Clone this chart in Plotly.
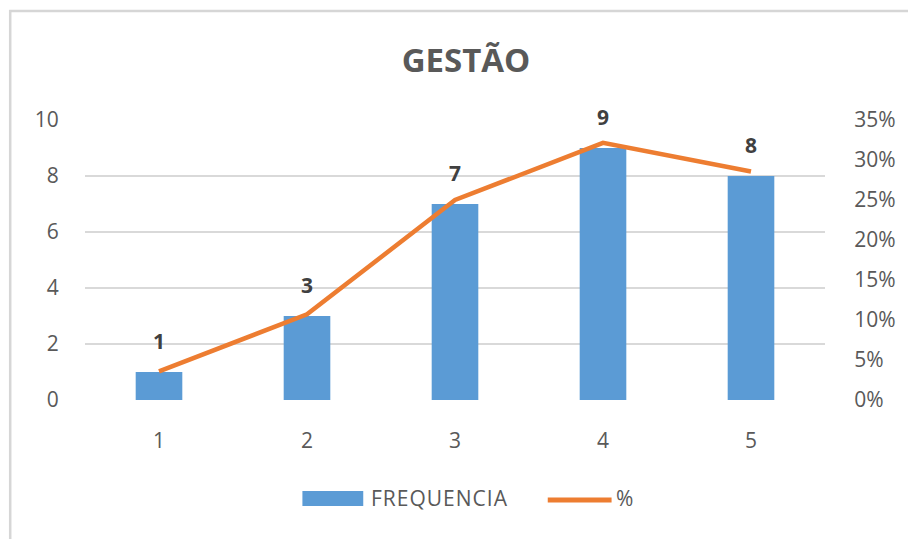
import plotly.graph_objects as go

# Chart data
categories = [1, 2, 3, 4, 5]
frequencia = [1, 3, 7, 9, 8]
percentual = [0.0357, 0.1071, 0.25, 0.3214, 0.2857]
left_ticks = [0, 2, 4, 6, 8, 10]
right_ticks = [0, 0.05, 0.10, 0.15, 0.20, 0.25, 0.30, 0.35]

BAR_COLOR = "#5B9BD5"
LINE_COLOR = "#ED7D31"
TEXT_GRAY = "#595959"
LABEL_GRAY = "#404040"
GRID = "#D9D9D9"
FONT = "Open Sans"

W, H = 908, 539
L, R, T, B = 85, 81, 120, 139
PW, PH = W - L - R, H - T - B


def px(x):
    return (x - L) / PW


def py(y):
    return (H - B - y) / PH


fig = go.Figure()

fig.add_trace(go.Bar(
    x=categories, y=frequencia, name="FREQUENCIA",
    marker=dict(color=BAR_COLOR, line=dict(width=0)),
    width=0.315, yaxis="y", showlegend=False,
))

fig.add_trace(go.Scatter(
    x=categories, y=percentual, name="%", mode="lines",
    line=dict(color=LINE_COLOR, width=4.5), yaxis="y2", showlegend=False,
))

# value labels above each column
for c, v in zip(categories, frequencia):
    fig.add_annotation(
        x=c, y=v, xref="x", yref="y", text=str(v), showarrow=False,
        yanchor="middle", yshift=31,
        font=dict(family=FONT, size=21, color=LABEL_GRAY, weight="bold"),
    )

# legend drawn by hand
fig.add_shape(type="rect", xref="paper", yref="paper",
              x0=px(303), x1=px(364), y0=py(506), y1=py(491),
              fillcolor=BAR_COLOR, line=dict(width=0))
fig.add_annotation(xref="paper", yref="paper", x=px(370), y=py(498),
                   xanchor="left", yanchor="middle",
                   text='<span style="letter-spacing:1px">FREQUENCIA</span>',
                   showarrow=False, font=dict(family=FONT, size=21, color=TEXT_GRAY))
fig.add_shape(type="line", xref="paper", yref="paper",
              x0=px(549), x1=px(613), y0=py(500), y1=py(500),
              line=dict(color=LINE_COLOR, width=5))
fig.add_annotation(xref="paper", yref="paper", x=px(615), y=py(498),
                   xanchor="left", yanchor="middle", text="%",
                   showarrow=False, font=dict(family=FONT, size=21, color=TEXT_GRAY))

# outer frame (top and left edges)
fig.add_shape(type="line", xref="paper", yref="paper",
              x0=px(9), x1=px(920), y0=py(11), y1=py(11),
              line=dict(color="#D6D6D6", width=2.5))
fig.add_shape(type="line", xref="paper", yref="paper",
              x0=px(10), x1=px(10), y0=py(10), y1=py(560),
              line=dict(color="#D6D6D6", width=2.5))

fig.update_layout(
    width=W, height=H,
    margin=dict(l=L, r=R, t=T, b=B),
    paper_bgcolor="white", plot_bgcolor="white",
    title=dict(text="<b>GESTÃO</b>", xref="container", yref="container",
               x=466 / W, y=1 - 60 / H, xanchor="center", yanchor="middle",
               font=dict(family=FONT, size=33, color=TEXT_GRAY)),
    xaxis=dict(
        range=[0.5, 5.5], tickmode="array", tickvals=categories,
        ticktext=[str(c) for c in categories],
        showgrid=False, zeroline=False, showline=False,
        ticks="outside", ticklen=0, ticklabelstandoff=22,
        tickfont=dict(family=FONT, size=21, color=TEXT_GRAY),
    ),
    yaxis=dict(
        range=[0, 10], tickmode="array", tickvals=left_ticks,
        showgrid=True, gridcolor=GRID, gridwidth=1.5,
        zeroline=False, showline=False,
        ticks="outside", ticklen=0, ticklabelstandoff=21,
        tickfont=dict(family=FONT, size=21, color=TEXT_GRAY),
    ),
    yaxis2=dict(
        range=[0, 0.35], overlaying="y", side="right",
        tickmode="array", tickvals=right_ticks, tickformat=".0%",
        showgrid=False, zeroline=False, showline=False,
        ticks="outside", ticklen=0, ticklabelstandoff=24,
        tickfont=dict(family=FONT, size=21, color=TEXT_GRAY),
    ),
    showlegend=False,
)

fig.write_html("out.html")
